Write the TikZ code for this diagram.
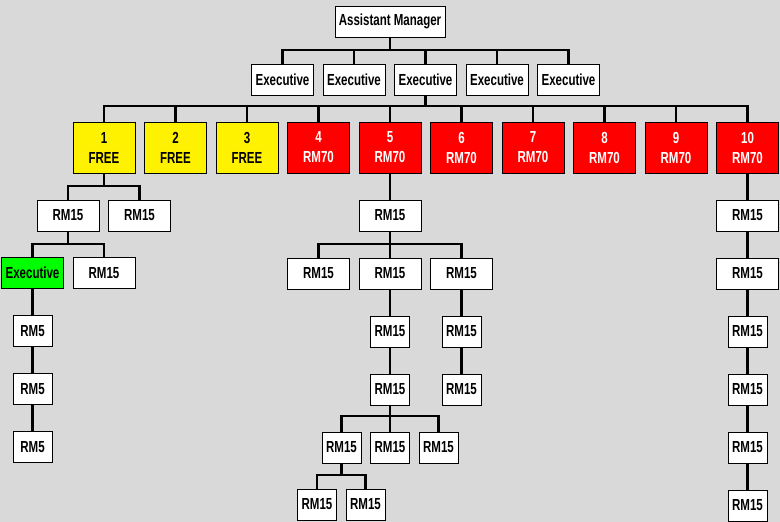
\documentclass[tikz,border=0pt]{standalone}
\usepackage{fontspec}
\setmainfont[FakeStretch=0.72]{Liberation Sans}
\usepackage{xcolor}
\usepackage{tikz}
\usetikzlibrary{positioning}

\definecolor{bggray}{RGB}{217,217,217}

\begin{document}
\begin{tikzpicture}[x=1pt, y=1pt, every node/.style={font=\bfseries\fontsize{16}{20}\selectfont}]
    \tikzstyle{box} = [rectangle, draw=black, fill=white, line width=1pt, inner sep=0pt, outer sep=0pt, minimum width=62pt, minimum height=31pt, align=center]
    \tikzstyle{narrow} = [box, minimum width=39pt]
    \tikzstyle{freebox} = [box, fill=yellow, minimum height=51pt]
    \tikzstyle{paidbox} = [box, fill=red, text=white, minimum height=51pt]
    \tikzstyle{link} = [line width=2.7pt]

    \fill[bggray] (0,0) rectangle (780,-522);
    \useasboundingbox (0,0) rectangle (780,-522);

    % top
    \node[box, minimum width=110pt] (mgr) at (390,-21.5) {Assistant Manager};
    \node[box] (exa) at (282.5,-79.5) {Executive};
    \node[box, right=9.5pt of exa] (exb) {Executive};
    \node[box, right=9.5pt of exb] (exc) {Executive};
    \node[box, right=9.5pt of exc] (exd) {Executive};
    \node[box, right=9.5pt of exd] (exe) {Executive};

    % slots
    \node[freebox] (slot1) at (104,-147.5) {1\\FREE};
    \node[freebox, right=9.5pt of slot1] (slot2) {2\\FREE};
    \node[freebox, right=9.5pt of slot2] (slot3) {3\\FREE};
    \node[paidbox, right=9.5pt of slot3] (slot4) {4\\RM70};
    \node[paidbox, right=9.5pt of slot4] (slot5) {5\\RM70};
    \node[paidbox, right=9.5pt of slot5] (slot6) {6\\RM70};
    \node[paidbox, right=9.5pt of slot6] (slot7) {7\\RM70};
    \node[paidbox, right=9.5pt of slot7] (slot8) {8\\RM70};
    \node[paidbox, right=9.5pt of slot8] (slot9) {9\\RM70};
    \node[paidbox, right=9.5pt of slot9] (slot10) {10\\RM70};

    % left branch
    \node[box] (lefta) at (68,-215.5) {RM15};
    \node[box, right=9.5pt of lefta] (leftb) {RM15};
    \node[box, fill=green] (lead) at (32.5,-273) {Executive};
    \node[box, right=9.5pt of lead] (leftc) {RM15};
    \node[narrow, below=27pt of lead] (low1) {RM5};
    \node[narrow, below=27pt of low1] (low2) {RM5};
    \node[narrow, below=27pt of low2] (low3) {RM5};

    % middle branch
    \node[box, below=27pt of slot5] (mid1) {RM15};
    \node[box, below=27pt of mid1] (mid2) {RM15};
    \node[box, left=9.5pt of mid2] (mid3) {RM15};
    \node[box, right=9.5pt of mid2] (mid4) {RM15};
    \node[narrow, below=27pt of mid2] (mid5) {RM15};
    \node[narrow, below=27pt of mid5] (mid6) {RM15};
    \node[narrow, below=27pt of mid4] (mid7) {RM15};
    \node[narrow, below=27pt of mid7] (mid8) {RM15};
    \node[narrow, below=27pt of mid6] (mid9) {RM15};
    \node[narrow, left=9.5pt of mid9] (mid10) {RM15};
    \node[narrow, right=9.5pt of mid9] (mid11) {RM15};
    \node[narrow] (mid12) at (317,-504.5) {RM15};
    \node[narrow, right=9.5pt of mid12] (mid13) {RM15};

    % right branch
    \node[box, below=27pt of slot10] (right1) {RM15};
    \node[box, below=27pt of right1] (right2) {RM15};
    \node[narrow, below=27pt of right2] (right3) {RM15};
    \node[narrow, below=27pt of right3] (right4) {RM15};
    \node[narrow, below=27pt of right4] (right5) {RM15};
    \node[narrow, below=27pt of right5] (right6) {RM15};

    % links
    \draw[link] (mgr.south) -- ++(0,-13) -| (exa.north);
    \draw[link] (mgr.south) -- ++(0,-13) -| (exb.north);
    \draw[link] (mgr.south) -- ++(0,-13) -| (exc.north);
    \draw[link] (mgr.south) -- ++(0,-13) -| (exd.north);
    \draw[link] (mgr.south) -- ++(0,-13) -| (exe.north);

    \draw[link] (exc.south) -- ++(0,-11) -| (slot1.north);
    \draw[link] (exc.south) -- ++(0,-11) -| (slot2.north);
    \draw[link] (exc.south) -- ++(0,-11) -| (slot3.north);
    \draw[link] (exc.south) -- ++(0,-11) -| (slot4.north);
    \draw[link] (exc.south) -- ++(0,-11) -| (slot5.north);
    \draw[link] (exc.south) -- ++(0,-11) -| (slot6.north);
    \draw[link] (exc.south) -- ++(0,-11) -| (slot7.north);
    \draw[link] (exc.south) -- ++(0,-11) -| (slot8.north);
    \draw[link] (exc.south) -- ++(0,-11) -| (slot9.north);
    \draw[link] (exc.south) -- ++(0,-11) -| (slot10.north);

    \draw[link] (slot1.south) -- ++(0,-13) -| (lefta.north);
    \draw[link] (slot1.south) -- ++(0,-13) -| (leftb.north);
    \draw[link] (lefta.south) -- ++(0,-13) -| (lead.north);
    \draw[link] (lefta.south) -- ++(0,-13) -| (leftc.north);
    \draw[link] (lead) -- (low1);
    \draw[link] (low1) -- (low2);
    \draw[link] (low2) -- (low3);

    \draw[link] (slot5) -- (mid1);
    \draw[link] (mid1.south) -- ++(0,-13) -| (mid3.north);
    \draw[link] (mid1.south) -- ++(0,-13) -| (mid4.north);
    \draw[link] (mid1) -- (mid2);
    \draw[link] (mid2) -- (mid5);
    \draw[link] (mid5) -- (mid6);
    \draw[link] (mid4) -- (mid7);
    \draw[link] (mid7) -- (mid8);
    \draw[link] (mid6.south) -- ++(0,-11) -| (mid10.north);
    \draw[link] (mid6.south) -- ++(0,-11) -| (mid11.north);
    \draw[link] (mid6) -- (mid9);
    \draw[link] (mid10.south) -- ++(0,-12) -| (mid12.north);
    \draw[link] (mid10.south) -- ++(0,-12) -| (mid13.north);

    \draw[link] (slot10) -- (right1);
    \draw[link] (right1) -- (right2);
    \draw[link] (right2) -- (right3);
    \draw[link] (right3) -- (right4);
    \draw[link] (right4) -- (right5);
    \draw[link] (right5) -- (right6);
\end{tikzpicture}
\end{document}
